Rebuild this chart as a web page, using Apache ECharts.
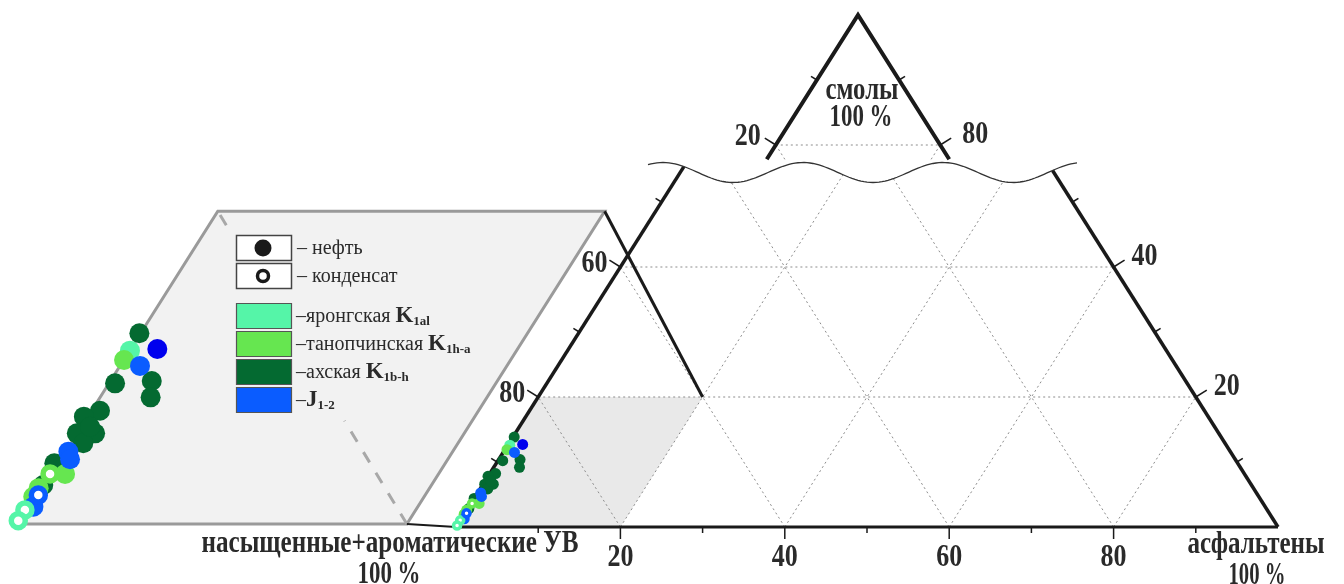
<!DOCTYPE html>
<html><head><meta charset="utf-8">
<script src="https://cdn.jsdelivr.net/npm/echarts@6/dist/echarts.min.js"></script>
<style>html,body{margin:0;padding:0;background:#fff}#c{width:1344px;height:584px}</style>
</head><body><div id="c"></div>
<script>
// ===== DATA: each point = [resins %, asphaltenes %]; saturates+aromatics = 100 - both =====
const yarongOil  = [[12.58,0.25]];
const yarongCond = [[1.02,0.0],[0.24,0.01]];
const tanopOil   = [[11.9,0.25],[3.63,1.0],[2.6,0.0],[1.98,0.0]];
const tanopCond  = [[3.63,0.14]];
const akhOil     = [[13.84,0.16],[10.38,2.6],[9.19,3.13],[10.21,0.58],[8.22,0.71],[7.79,0.0],
                    [6.58,0.2],[6.58,1.25],[5.86,0.93],[7.06,0.72],[4.4,0.0],[2.83,0.15]];
const jOil       = [[11.47,1.38],[5.25,0.38],[4.7,0.75],[1.26,0.37]];
const jOilDeep   = [[12.7,1.76]];
const jCond      = [[2.1,0.23]];
const bottomTickLabels = ['20','40','60','80'];      // asphaltenes
const leftTickLabels   = ['80','60'];                // sat+arom at resin 20, 40
const rightTickLabels  = ['20','40'];                // resin 20, 40
const topTickLabels    = ['20','80'];                // at resin 80

const C_AQUA='#55f5a8', C_LG='#66e650', C_DG='#046a31', C_BLUE='#0a5cff', C_DEEP='#0000ee';
const FONT = "'Liberation Serif','DejaVu Serif',serif";
const TXT = '#2a2a2a';

// ===== geometry (layout) =====
const B0=[456,527], PX=8.22, PY=6.5;
function main(a,r){ return [B0[0]+(a+r/2)*PX, B0[1]-r*PY]; }
function topP(a,r){ const p=main(a,r); return [p[0]-9, p[1]+138]; }
const S=2.12, O=[16,524];
function inset(a,r){ const p=main(a,r); return [O[0]+S*(p[0]-B0[0]), O[1]+S*(p[1]-B0[1])]; }
function waveY(x){ return 172.5 + 10*Math.cos(2*Math.PI*(x-733)/140); }
function cut(p0,p1){
  if (p1[1] >= waveY(p1[0])) return p1;
  let lo=0, hi=1;
  for (let i=0;i<40;i++){ const m=(lo+hi)/2; const q=[p0[0]+(p1[0]-p0[0])*m, p0[1]+(p1[1]-p0[1])*m];
    if (q[1] >= waveY(q[0])) lo=m; else hi=m; }
  return [p0[0]+(p1[0]-p0[0])*lo, p0[1]+(p1[1]-p0[1])*lo];
}
const mctx=document.createElement('canvas').getContext('2d');
function sx(text,font,w){ mctx.font=font; return w/mctx.measureText(text).width; }

const shapes=[];
function poly(pts,fill,stroke,lw){ shapes.push({kind:'polygon',pts,fill,stroke,lw}); }
function line(pts,stroke,lw,dash){ shapes.push({kind:'polyline',pts,stroke,lw,dash}); }
function text(p,t,font,w){ shapes.push({kind:'text',pts:[p],text:t,font,sx:w?sx(t,font,w):1}); }

const IA0=0.23, IA1=22.43, IR=22.7;
poly([inset(IA0,0),inset(IA0,IR),inset(IA1,IR),inset(IA1,0)],'#f2f2f2','#9a9a9a',3);
poly([main(0,0),main(0,20),main(20,20),main(20,0)],'#e9e9e9',null,0);
function lerp(p,q,t){return [p[0]+(q[0]-p[0])*t,p[1]+(q[1]-p[1])*t];}
const dA=inset(IA1,0), dB=inset(IA0,IR);
line([dA,lerp(dA,dB,0.33)],'#a8a8a8',3,[12,12]);
line([lerp(dA,dB,0.955),dB],'#a8a8a8',3,[12,12]);

const G='#8c8c8c', GD=[2,3];
line([main(0,20),main(80,20)],G,1,GD);
line([main(0,40),main(60,40)],G,1,GD);
[20,40,60,80].forEach(a=>{ const p0=main(a,0); line([p0,cut(p0,main(a,100-a))],G,1,GD); });
[20,40,60,80].forEach(a=>{ const p0=main(a,0); line([p0,cut(p0,main(0,a))],G,1,GD); });
line([topP(0,80),topP(20,80)],G,1,GD);
line([topP(0,80),topP(2.2,77.8)],G,1,GD);
line([topP(20,80),topP(20,77.8)],G,1,GD);

line([inset(IA1,0),main(0,0)],'#1a1a1a',2);
line([inset(IA1,IR),main(20,20)],'#1a1a1a',3);

const E='#1a1a1a';
line([main(0,0),main(100,0)],E,3);
line([main(0,0),cut(main(0,0),main(0,100))],E,3.5);
line([main(100,0),cut(main(100,0),main(0,100))],E,3.5);
line([topP(0,77.8),topP(0,100),topP(22.2,77.8)],E,4);
const wv=[]; for(let x=648;x<=1077;x+=3) wv.push([x,waveY(x)]);
line(wv,'#333',1.3);

const nL=[-0.845,-0.534], nR=[0.845,-0.534];
function tick(p,n,len){ line([p,[p[0]+n[0]*len,p[1]+n[1]*len]],E,1.5); }
for(let v=10;v<=90;v+=10) tick(main(v,0),[0,1],v%20?6:12);
for(let r=10;r<=50;r+=10){ tick(main(0,r),nL,r%20?7:13); tick(main(100-r,r),nR,r%20?7:13); }
tick(topP(0,80),nL,13); tick(topP(20,80),nR,13);
tick(topP(0,90),nL,7); tick(topP(10,90),nR,7);

const NF='bold 31px '+FONT;
bottomTickLabels.forEach((t,i)=>{ const p=main(20*(i+1),0); text([p[0],p[1]+31],t,NF,26); });
leftTickLabels.forEach((t,i)=>{ const p=main(0,20*(i+1)); text([p[0]-26,p[1]-3],t,NF,26); });
rightTickLabels.forEach((t,i)=>{ const r=20*(i+1); const p=main(100-r,r); text([p[0]+31,p[1]-10],t,NF,26); });
{ const p=topP(0,80); text([p[0]-28,p[1]-8],topTickLabels[0],NF,26); }
{ const p=topP(20,80); text([p[0]+35,p[1]-10],topTickLabels[1],NF,26); }

const TF='bold 31px '+FONT;
text([390,544],'насыщенные+ароматические УВ',TF,377);
text([389,575],'100 %',TF,63);
text([1256,545],'асфальтены',TF,137);
text([1257,576],'100 %',TF,57);
text([862,91],'смолы',TF,73);
text([861,118],'100 %',TF,63);

function renderShape(params, api){
  const s=shapes[params.dataIndex];
  const pts=s.pts.map(p=>api.coord(p));
  if(s.kind==='polygon') return {type:'polygon',shape:{points:pts},style:{fill:s.fill,stroke:s.stroke||null,lineWidth:s.lw||0}};
  if(s.kind==='polyline') return {type:'polyline',shape:{points:pts},style:{fill:null,stroke:s.stroke,lineWidth:s.lw,lineDash:s.dash||null,lineCap:'butt'}};
  const c=pts[0];
  return {type:'text',x:c[0],y:c[1],scaleX:s.sx,style:{text:s.text,font:s.font,fill:TXT,align:'center',verticalAlign:'middle'}};
}

const groups=[
  {oil:akhOil, cond:[], color:C_DG},
  {oil:yarongOil, cond:yarongCond, color:C_AQUA},
  {oil:tanopOil, cond:tanopCond, color:C_LG},
  {oil:jOil, cond:jCond, color:C_BLUE},
  {oil:jOilDeep, cond:[], color:C_DEEP}
];
const series=[{type:'custom',renderItem:renderShape,coordinateSystem:'cartesian2d',
  data:shapes.map((s,i)=>[s.pts[0][0],s.pts[0][1],i]),silent:true,clip:false,z:1}];
function addScatter(map,pts,color,ring,size,bw){
  series.push({type:'scatter',z:5,silent:true,symbol:'circle',symbolSize:size,
    data:pts.map(d=>map(d[1],d[0])),
    itemStyle:ring?{color:'#fff',borderColor:color,borderWidth:bw,opacity:1}:{color:color,opacity:1}});
}
groups.forEach(g=>{ addScatter(main,g.oil,g.color,false,11); addScatter(inset,g.oil,g.color,false,20); });
groups.forEach(g=>{ if(g.cond.length){ addScatter(main,g.cond,g.color,true,7,3.5); addScatter(inset,g.cond,g.color,true,14,5.5);} });

// ===== legend (graphic) =====
const LF=FONT;
const lg=[];
lg.push({type:'rect',z:100,shape:{x:236.5,y:235.5,width:55,height:25},style:{fill:'#fff',stroke:'#444',lineWidth:1.5}});
lg.push({type:'circle',z:101,shape:{cx:263,cy:248,r:8.5},style:{fill:'#1a1a1a'}});
lg.push({type:'text',z:101,x:297,y:249,style:{text:'– нефть',font:'20px '+LF,fill:TXT,verticalAlign:'middle'}});
lg.push({type:'rect',z:100,shape:{x:236.5,y:263.5,width:55,height:25},style:{fill:'#fff',stroke:'#444',lineWidth:1.5}});
lg.push({type:'circle',z:101,shape:{cx:263,cy:276,r:5.5},style:{fill:'#fff',stroke:'#1a1a1a',lineWidth:3.5}});
lg.push({type:'text',z:101,x:297,y:277,style:{text:'– конденсат',font:'20px '+LF,fill:TXT,verticalAlign:'middle'}});
const legendRows=[
  {c:C_AQUA,a:'–яронгская ',b:'K',s:'1al'},
  {c:C_LG,a:'–танопчинская ',b:'K',s:'1h-a'},
  {c:C_DG,a:'–ахская ',b:'K',s:'1b-h'},
  {c:C_BLUE,a:'–',b:'J',s:'1-2'}
];
legendRows.forEach((r,i)=>{
  const y=303.5+28*i;
  lg.push({type:'rect',z:100,shape:{x:236.5,y:y,width:55,height:25},style:{fill:r.c,stroke:'#555',lineWidth:1.2}});
  lg.push({type:'text',z:101,x:296,y:y+13,style:{
    text:'{a|'+r.a+'}{b|'+r.b+'}{c|'+r.s+'}',verticalAlign:'middle',
    rich:{a:{fontSize:20,fontFamily:LF,fill:TXT,lineHeight:24},
          b:{fontSize:23,fontWeight:'bold',fontFamily:LF,fill:TXT,lineHeight:24},
          c:{fontSize:13,fontWeight:'bold',fontFamily:LF,fill:TXT,lineHeight:14,verticalAlign:'bottom'}}}});
});

const chart=echarts.init(document.getElementById('c'),null,{renderer:'canvas'});
chart.setOption({
  animation:false,
  backgroundColor:'#fff',
  grid:{left:0,right:0,top:0,bottom:0},
  xAxis:{type:'value',min:0,max:1344,show:false},
  yAxis:{type:'value',min:0,max:584,inverse:true,show:false},
  series:series,
  graphic:{elements:lg}
});
</script></body></html>
